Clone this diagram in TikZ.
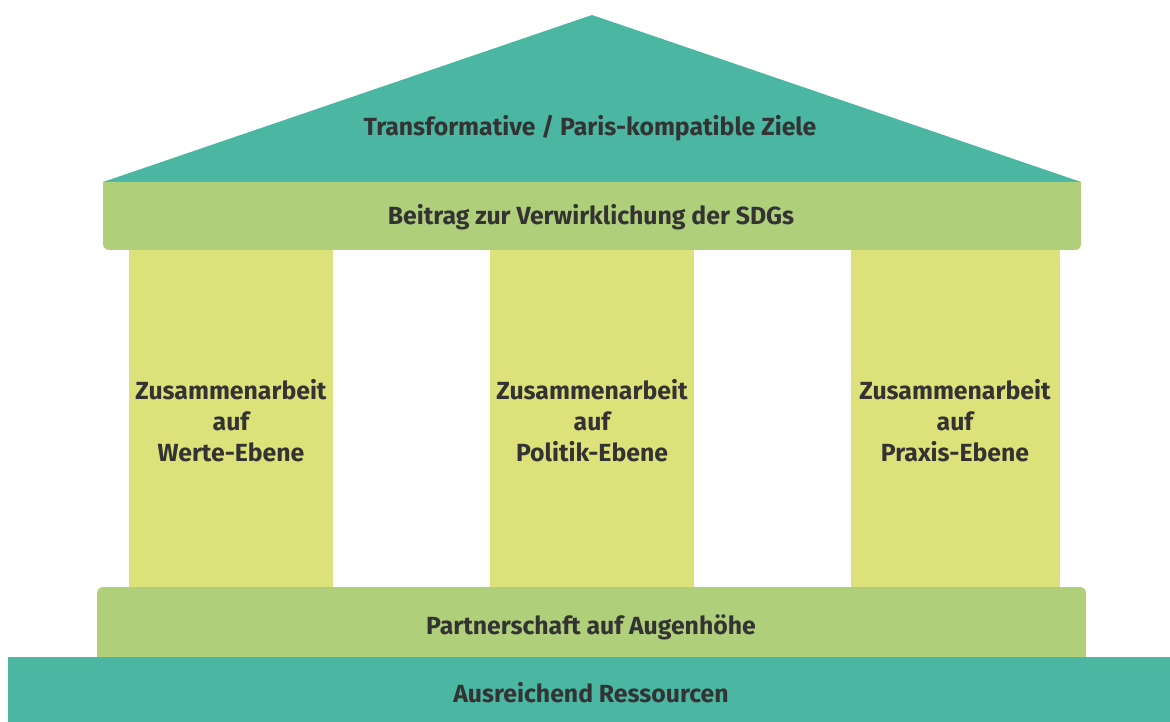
\documentclass[tikz,border=0pt]{standalone}
\usepackage{fontspec}
\setmainfont{Fira Sans}
\usetikzlibrary{positioning}
\definecolor{roofteal}{HTML}{4BB6A2}
\definecolor{beamgreen}{HTML}{AFCF7B}
\definecolor{pillaryellow}{HTML}{DDE17A}
\definecolor{labelgray}{HTML}{333333}
\tikzset{label text/.style={text=labelgray, inner sep=0pt, align=center,
		font=\bfseries\fontsize{24.8}{31}\selectfont}}

\begin{document}
\begin{tikzpicture}[x=1pt,y=-1pt]
		\useasboundingbox (0,0) rectangle (1170,722);
		% roof and beam
		\fill[roofteal] (592,15) -- (1081,182) -- (103,182) -- cycle;
		\fill[beamgreen, rounded corners=6] (103,182) rectangle (1081,250);
		\fill[beamgreen] (103,182) rectangle (1081,210);
		% pillars
		\fill[pillaryellow] (129,250) rectangle (333,588);
		\fill[pillaryellow] (490,250) rectangle (694,588);
		\fill[pillaryellow] (851,250) rectangle (1060,588);
		% base
		\fill[beamgreen, rounded corners=6] (97,587) rectangle (1086,667);
		\fill[roofteal] (8,657) rectangle (1170,722);
		\node[label text] (goals) at (590,128) {Transformative / Paris-kompatible Ziele};
		\node[label text] (sdgs) at (591,217) {Beitrag zur Verwirklichung der SDGs};
		\node[label text] (values) at (231,421) {Zusammenarbeit\\auf\\Werte-Ebene};
		\node[label text] (policy) at (592,421) {Zusammenarbeit\\auf\\Politik-Ebene};
		\node[label text] (practice) at (955,421) {Zusammenarbeit\\auf\\Praxis-Ebene};
		\node[label text] (partner) at (591,627) {Partnerschaft auf Augenhöhe};
		\node[label text] (funds) at (591,693) {Ausreichend Ressourcen};
	\end{tikzpicture}
\end{document}
